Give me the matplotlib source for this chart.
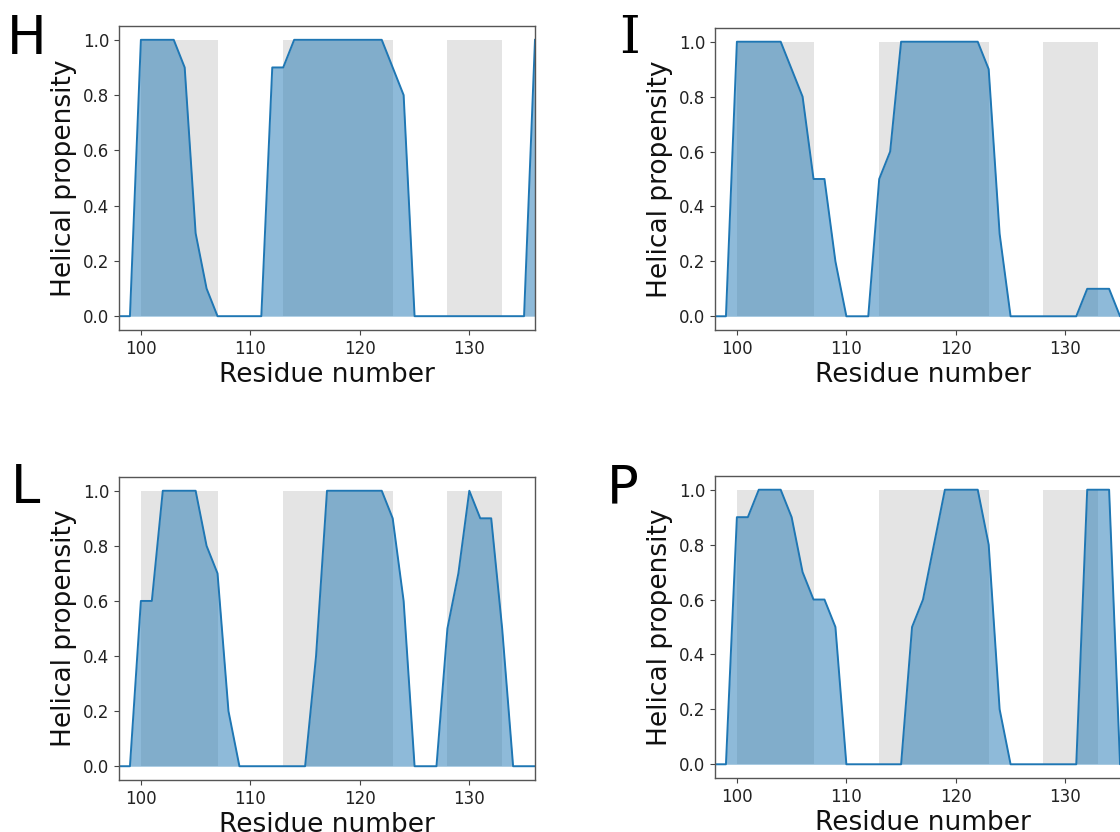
import numpy as np
import matplotlib
matplotlib.use("Agg")
import matplotlib.pyplot as plt

# residue numbers and helical propensity per panel
residues = list(range(98, 137))
helix_regions = [(100, 107), (113, 123), (128, 133)]

prop_H = [0, 0, 1, 1, 1, 1, 0.9, 0.3, 0.1, 0,
          0, 0, 0, 0, 0.9, 0.9, 1, 1, 1, 1,
          1, 1, 1, 1, 1, 0.9, 0.8, 0, 0, 0,
          0, 0, 0, 0, 0, 0, 0, 0, 1]
prop_I = [0, 0, 1, 1, 1, 1, 1, 0.9, 0.8, 0.5,
          0.5, 0.2, 0, 0, 0, 0.5, 0.6, 1, 1, 1,
          1, 1, 1, 1, 1, 0.9, 0.3, 0, 0, 0,
          0, 0, 0, 0, 0.1, 0.1, 0.1, 0, 0]
prop_L = [0, 0, 0.6, 0.6, 1, 1, 1, 1, 0.8, 0.7,
          0.2, 0, 0, 0, 0, 0, 0, 0, 0.4, 1,
          1, 1, 1, 1, 1, 0.9, 0.6, 0, 0, 0,
          0.5, 0.7, 1, 0.9, 0.9, 0.5, 0, 0, 0]
prop_P = [0, 0, 0.9, 0.9, 1, 1, 1, 0.9, 0.7, 0.6,
          0.6, 0.5, 0, 0, 0, 0, 0, 0, 0.5, 0.6,
          0.8, 1, 1, 1, 1, 0.8, 0.2, 0, 0, 0,
          0, 0, 0, 0, 1, 1, 1, 0, 0]

panels = [
    # letter, data, axes rect (fig fraction), letter pos, letter family
    ("H", prop_H, [119/1120, 1-330/832, 416/1120, 304/832], (7/1120, 1-54/832), "DejaVu Sans"),
    ("I", prop_I, [715/1120, 1-330/832, 416/1120, 302/832], (619/1120, 1-53/832), "DejaVu Serif"),
    ("L", prop_L, [119/1120, 1-780/832, 416/1120, 303/832], (11/1120, 1-503/832), "DejaVu Sans"),
    ("P", prop_P, [715/1120, 1-778/832, 416/1120, 302/832], (607/1120, 1-503/832), "DejaVu Sans"),
]

fig = plt.figure(figsize=(11.2, 8.32), dpi=100)

for letter, prop, rect, lpos, fam in panels:
    ax = fig.add_axes(rect)
    for start, end in helix_regions:
        ax.fill_between([start, end], 0, 1, color="#e4e4e4", lw=0)
    ax.fill_between(residues, prop, 0, color="#1f77b4", alpha=0.5, lw=0)
    ax.plot(residues, prop, color="#1f77b4", lw=1.4)
    ax.set_xlim(98, 136)
    ax.set_ylim(-0.05, 1.05)
    ax.set_xticks([100, 110, 120, 130])
    ax.set_yticks(np.arange(0, 1.01, 0.2))
    ax.tick_params(labelsize=12, colors="#444444", labelcolor="#222222")
    for s in ax.spines.values():
        s.set_color("#555555")
        s.set_linewidth(1.0)
    ax.set_xlabel("Residue number", fontsize=19, color="#111111", labelpad=3)
    ax.set_ylabel("Helical propensity", fontsize=19, color="#111111")
    fig.text(lpos[0], lpos[1], letter, fontsize=38, family=fam,
             ha="left", va="baseline")

fig.savefig("out.png", dpi=100)
